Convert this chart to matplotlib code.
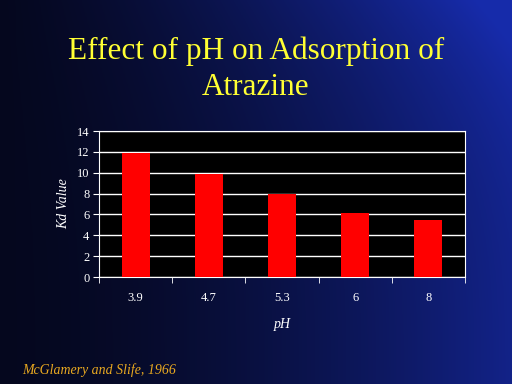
import matplotlib.pyplot as plt
import numpy as np

ph_labels = ["3.9", "4.7", "5.3", "6", "8"]
kd_values = [11.85, 9.85, 8.0, 6.1, 5.45]

fig = plt.figure(figsize=(5.12, 3.84), dpi=100)

# slide background: dark navy, bluer towards the right
bg = fig.add_axes([0, 0, 1, 1])
yy, xx = np.mgrid[0:1:200j, 0:1:200j]
shade = np.clip(0.75 * xx ** 1.6 + 0.35 * (1 - yy) ** 3 * xx, 0, 1)
shade[:, :6] *= 0.5
rgb = np.zeros((200, 200, 3))
rgb[..., 0] = 0.02 + 0.07 * shade
rgb[..., 1] = 0.03 + 0.14 * shade
rgb[..., 2] = 0.12 + 0.55 * shade
bg.imshow(rgb, aspect="auto", extent=[0, 1, 0, 1])
bg.set_xlim(0, 1)
bg.set_ylim(0, 1)
bg.axis("off")

fig.text(0.5, 0.82, "Effect of pH on Adsorption of\nAtrazine", ha="center", va="center",
         color="#ffff33", fontsize=22.5, family="Liberation Serif", linespacing=1.3)

ax = fig.add_axes([99 / 512, 1 - 277 / 384, 366 / 512, 146 / 384])
ax.set_facecolor("black")
x = np.arange(len(ph_labels))
ax.bar(x, kd_values, width=0.38, color="#ff0000", zorder=3)
ax.set_xlim(-0.5, len(ph_labels) - 0.5)
ax.set_ylim(0, 14)
ax.set_yticks(np.arange(0, 15, 2))
ax.yaxis.grid(True, color="white", linewidth=1)
ax.set_axisbelow(True)
ax.set_xticks(x)
ax.set_xticklabels(ph_labels)
ax.set_xticks(np.arange(-0.5, len(ph_labels), 1), minor=True)
ax.tick_params(axis="x", which="major", length=0, pad=11)
ax.tick_params(axis="x", which="minor", length=4, color="white", direction="out")
ax.tick_params(axis="y", length=4, color="white", direction="out", pad=3)
for lab in ax.get_xticklabels() + ax.get_yticklabels():
    lab.set_color("white")
    lab.set_family("Liberation Serif")
    lab.set_fontsize(9)
for s in ax.spines.values():
    s.set_color("white")
ax.set_ylabel("Kd Value", color="white", family="Liberation Serif", style="italic",
              fontsize=10, labelpad=5)
ax.set_xlabel("pH", color="white", family="Liberation Serif", style="italic",
              fontsize=10, labelpad=10)

fig.text(22 / 512, 1 - 370 / 384, "McGlamery and Slife, 1966", color="#e8a820",
         family="Liberation Serif", style="italic", fontsize=10, va="center")

fig.savefig("out.png", dpi=100, facecolor="#050a30")
